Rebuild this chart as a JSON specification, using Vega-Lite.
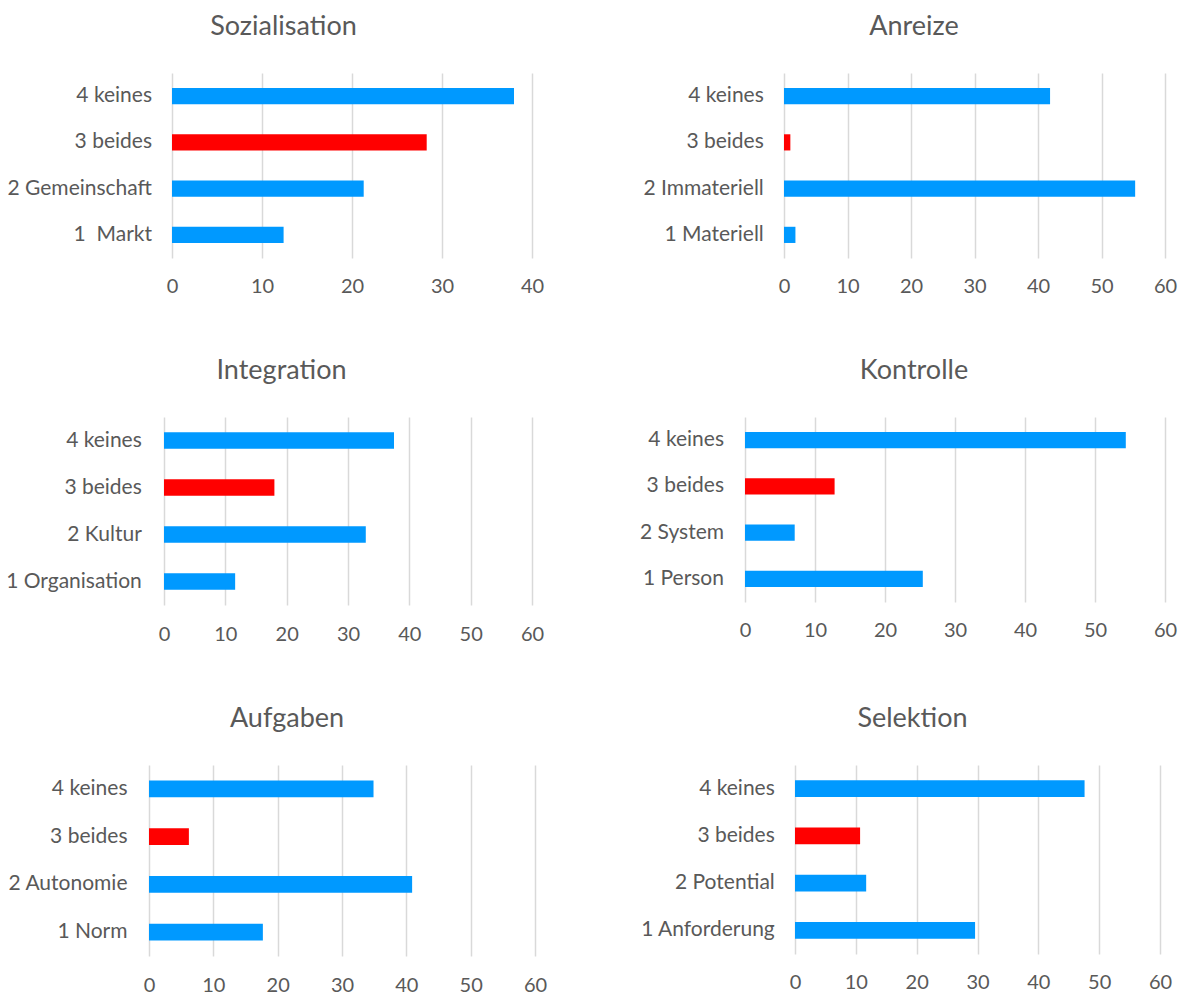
{
  "$schema": "https://vega.github.io/schema/vega-lite/v6.json",
  "padding": {"left": 5, "top": 13, "right": 5, "bottom": 0},
  "background": "white",
  "data": {"values": [
    {"panel": "Sozialisation", "label": "4 keines", "value": 38.0, "typ": "andere"},
    {"panel": "Sozialisation", "label": "3 beides", "value": 28.3, "typ": "beides"},
    {"panel": "Sozialisation", "label": "2 Gemeinschaft", "value": 21.3, "typ": "andere"},
    {"panel": "Sozialisation", "label": "1\u00a0\u00a0Markt", "value": 12.4, "typ": "andere"},
    {"panel": "Anreize", "label": "4 keines", "value": 41.9, "typ": "andere"},
    {"panel": "Anreize", "label": "3 beides", "value": 1.0, "typ": "beides"},
    {"panel": "Anreize", "label": "2 Immateriell", "value": 55.3, "typ": "andere"},
    {"panel": "Anreize", "label": "1 Materiell", "value": 1.8, "typ": "andere"},
    {"panel": "Integration", "label": "4 keines", "value": 37.5, "typ": "andere"},
    {"panel": "Integration", "label": "3 beides", "value": 18.0, "typ": "beides"},
    {"panel": "Integration", "label": "2 Kultur", "value": 32.9, "typ": "andere"},
    {"panel": "Integration", "label": "1 Organisation", "value": 11.6, "typ": "andere"},
    {"panel": "Kontrolle", "label": "4 keines", "value": 54.4, "typ": "andere"},
    {"panel": "Kontrolle", "label": "3 beides", "value": 12.8, "typ": "beides"},
    {"panel": "Kontrolle", "label": "2 System", "value": 7.1, "typ": "andere"},
    {"panel": "Kontrolle", "label": "1 Person", "value": 25.4, "typ": "andere"},
    {"panel": "Aufgaben", "label": "4 keines", "value": 34.9, "typ": "andere"},
    {"panel": "Aufgaben", "label": "3 beides", "value": 6.2, "typ": "beides"},
    {"panel": "Aufgaben", "label": "2 Autonomie", "value": 40.9, "typ": "andere"},
    {"panel": "Aufgaben", "label": "1 Norm", "value": 17.7, "typ": "andere"},
    {"panel": "Selektion", "label": "4 keines", "value": 47.6, "typ": "andere"},
    {"panel": "Selektion", "label": "3 beides", "value": 10.7, "typ": "beides"},
    {"panel": "Selektion", "label": "2 Potential", "value": 11.7, "typ": "andere"},
    {"panel": "Selektion", "label": "1 Anforderung", "value": 29.6, "typ": "andere"}
  ]},
  "columns": 2,
  "align": "each",
  "spacing": {"row": 60, "column": 92},
  "concat": [
    {
      "title": {"text": "Sozialisation", "frame": "group", "dx": -57, "baseline": "alphabetic", "offset": 11},
      "width": 383, "height": 185,
      "transform": [{"filter": "datum.panel === 'Sozialisation'"}],
      "mark": {"type": "bar"},
      "encoding": {
        "y": {"field": "label", "type": "nominal", "sort": "descending", "scale": {"paddingInner": 0.65, "paddingOuter": 0.325}, "axis": {"title": null, "labelPadding": -2.5}},
        "x": {"field": "value", "type": "quantitative", "scale": {"domain": [0, 40], "nice": false, "range": [23, 383]}, "axis": {"values": [0, 10, 20, 30, 40], "title": null, "labelPadding": 18.5}},
        "color": {"field": "typ", "type": "nominal", "scale": {"domain": ["andere", "beides"], "range": ["#0099FF", "#FF0000"]}, "legend": null}
      }
    },
    {
      "title": {"text": "Anreize", "frame": "group", "dx": -41, "baseline": "alphabetic", "offset": 11},
      "width": 420, "height": 185,
      "transform": [{"filter": "datum.panel === 'Anreize'"}],
      "mark": {"type": "bar"},
      "encoding": {
        "y": {"field": "label", "type": "nominal", "sort": "descending", "scale": {"paddingInner": 0.65, "paddingOuter": 0.325}, "axis": {"title": null, "labelPadding": -18.3}},
        "x": {"field": "value", "type": "quantitative", "scale": {"domain": [0, 60], "nice": false, "range": [39, 420]}, "axis": {"values": [0, 10, 20, 30, 40, 50, 60], "title": null, "labelPadding": 18.5}},
        "color": {"field": "typ", "type": "nominal", "scale": {"domain": ["andere", "beides"], "range": ["#0099FF", "#FF0000"]}, "legend": null}
      }
    },
    {
      "title": {"text": "Integration", "frame": "group", "dx": -59, "baseline": "alphabetic", "offset": 11},
      "width": 383, "height": 188,
      "transform": [{"filter": "datum.panel === 'Integration'"}],
      "mark": {"type": "bar"},
      "encoding": {
        "y": {"field": "label", "type": "nominal", "sort": "descending", "scale": {"paddingInner": 0.65, "paddingOuter": 0.325}, "axis": {"title": null, "labelPadding": 7.7}},
        "x": {"field": "value", "type": "quantitative", "scale": {"domain": [0, 60], "nice": false, "range": [15, 383]}, "axis": {"values": [0, 10, 20, 30, 40, 50, 60], "title": null, "labelPadding": 19.5}},
        "color": {"field": "typ", "type": "nominal", "scale": {"domain": ["andere", "beides"], "range": ["#0099FF", "#FF0000"]}, "legend": null}
      }
    },
    {
      "title": {"text": "Kontrolle", "frame": "group", "dx": -41, "baseline": "alphabetic", "offset": 11},
      "width": 420, "height": 185,
      "transform": [{"filter": "datum.panel === 'Kontrolle'"}],
      "mark": {"type": "bar"},
      "encoding": {
        "y": {"field": "label", "type": "nominal", "sort": "descending", "scale": {"paddingInner": 0.65, "paddingOuter": 0.325}, "axis": {"title": null, "labelPadding": 21.5}},
        "x": {"field": "value", "type": "quantitative", "scale": {"domain": [0, 60], "nice": false, "range": [0, 420]}, "axis": {"values": [0, 10, 20, 30, 40, 50, 60], "title": null, "labelPadding": 18.5}},
        "color": {"field": "typ", "type": "nominal", "scale": {"domain": ["andere", "beides"], "range": ["#0099FF", "#FF0000"]}, "legend": null}
      }
    },
    {
      "title": {"text": "Aufgaben", "frame": "group", "dx": -55, "baseline": "alphabetic", "offset": 11},
      "width": 386, "height": 191,
      "transform": [{"filter": "datum.panel === 'Aufgaben'"}],
      "mark": {"type": "bar"},
      "encoding": {
        "y": {"field": "label", "type": "nominal", "sort": "descending", "scale": {"paddingInner": 0.65, "paddingOuter": 0.325}, "axis": {"title": null, "labelPadding": 22}},
        "x": {"field": "value", "type": "quantitative", "scale": {"domain": [0, 60], "nice": false, "range": [0, 386]}, "axis": {"values": [0, 10, 20, 30, 40, 50, 60], "title": null, "labelPadding": 19.5}},
        "color": {"field": "typ", "type": "nominal", "scale": {"domain": ["andere", "beides"], "range": ["#0099FF", "#FF0000"]}, "legend": null}
      }
    },
    {
      "title": {"text": "Selektion", "frame": "group", "dx": -40, "baseline": "alphabetic", "offset": 11},
      "width": 415, "height": 189,
      "transform": [{"filter": "datum.panel === 'Selektion'"}],
      "mark": {"type": "bar"},
      "encoding": {
        "y": {"field": "label", "type": "nominal", "sort": "descending", "scale": {"paddingInner": 0.65, "paddingOuter": 0.325}, "axis": {"title": null, "labelPadding": -29.3}},
        "x": {"field": "value", "type": "quantitative", "scale": {"domain": [0, 60], "nice": false, "range": [50, 415]}, "axis": {"values": [0, 10, 20, 30, 40, 50, 60], "title": null, "labelPadding": 18.5}},
        "color": {"field": "typ", "type": "nominal", "scale": {"domain": ["andere", "beides"], "range": ["#0099FF", "#FF0000"]}, "legend": null}
      }
    }
  ],
  "config": {
    "font": "Lato",
    "view": {"stroke": null},
    "axis": {"domain": false, "ticks": false, "tickSize": 0, "labelColor": "#595959", "labelFont": "Lato"},
    "axisX": {"grid": true, "gridColor": "#D9D9D9", "gridWidth": 1.5, "labelFontSize": 20, "labelFlush": false},
    "axisY": {"grid": false, "labelFontSize": 21},
    "title": {"font": "Lato", "fontSize": 27, "fontWeight": "normal", "color": "#595959"}
  }
}
